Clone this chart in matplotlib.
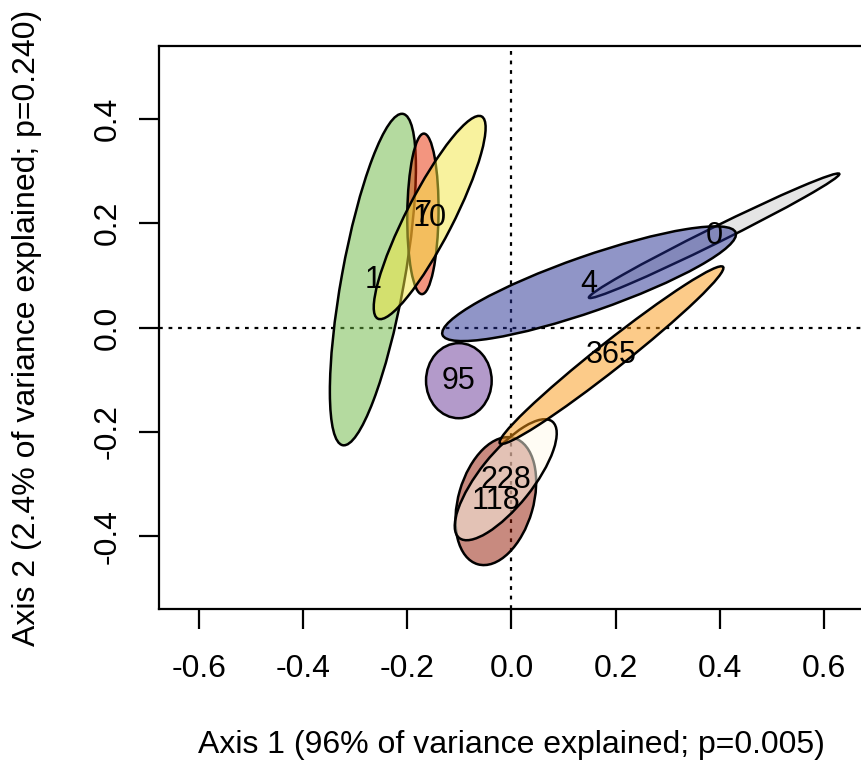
import matplotlib
matplotlib.use("Agg")
import matplotlib.pyplot as plt
from matplotlib.patches import Ellipse

plt.rcParams['font.family'] = ['Liberation Sans', 'DejaVu Sans']
plt.rcParams['axes.unicode_minus'] = False

# ---- data (ellipses in ordination space) ----
groups = ['0', '1', '4', '7', '10', '95', '118', '228', '365']
center_x = [0.389, -0.266, 0.149, -0.170, -0.157, -0.101, -0.030, -0.011, 0.192]
center_y = [0.176, 0.092, 0.084, 0.218, 0.211, -0.102, -0.333, -0.292, -0.053]
semi_major = [0.268, 0.323, 0.298, 0.154, 0.218, 0.072, 0.126, 0.143, 0.273]
semi_minor = [0.015, 0.060, 0.053, 0.030, 0.045, 0.063, 0.072, 0.051, 0.026]
angle_deg = [26.3, 79.7, 19.2, 89.3, 62.8, 90.0, 74.0, 51.3, 38.3]
fill_colors = ['#CCCCCC', '#6BB741', '#232D91', '#E92D00', '#F3E73F',
               '#693797', '#931700', '#FFFBEB', '#FB9915']
fill_alpha = 0.5

x_ticks = [-0.6, -0.4, -0.2, 0.0, 0.2, 0.4, 0.6]
y_ticks = [-0.4, -0.2, 0.0, 0.2, 0.4]
x_label = 'Axis 1 (96% of variance explained; p=0.005)'
y_label = 'Axis 2 (2.4% of variance explained; p=0.240)'

fig = plt.figure(figsize=(8.62, 7.68), dpi=100)
ax = fig.add_axes([0.1848, 0.2066, 0.8171, 0.7339])
ax.set_xlim(-0.676, 0.676)
ax.set_ylim(-0.5406, 0.5406)

ax.axvline(0, color='black', lw=1.6, linestyle=(0, (1.7, 2.6)), zorder=1)
ax.axhline(0, color='black', lw=1.6, linestyle=(0, (1.7, 2.6)), zorder=1)

for g, cx, cy, a, b, ang, col in zip(groups, center_x, center_y, semi_major,
                                      semi_minor, angle_deg, fill_colors):
    e = Ellipse((cx, cy), 2 * a, 2 * b, angle=ang,
                facecolor=matplotlib.colors.to_rgba(col, fill_alpha),
                edgecolor='black', lw=1.8, zorder=2)
    ax.add_patch(e)

for g, cx, cy in zip(groups, center_x, center_y):
    ax.text(cx, cy, g, ha='center', va='center', fontsize=22, zorder=3)

ax.set_xticks(x_ticks)
ax.set_xticklabels([f'{v:.1f}' for v in x_ticks])
ax.set_yticks(y_ticks)
ax.set_yticklabels([f'{v:.1f}' for v in y_ticks], rotation=90, va='center')
ax.tick_params(axis='both', direction='out', length=14.5, width=1.6,
               labelsize=23)
ax.tick_params(axis='x', pad=18)
ax.tick_params(axis='y', pad=12)
for s in ax.spines.values():
    s.set_linewidth(1.6)

fig.text(0.5935, 1 - 745 / 768, x_label, ha='center', va='center', fontsize=23)
fig.text(27 / 862, 1 - 327.5 / 768, y_label, ha='center', va='center',
         rotation=90, fontsize=23)

fig.savefig('out.png', dpi=100)
